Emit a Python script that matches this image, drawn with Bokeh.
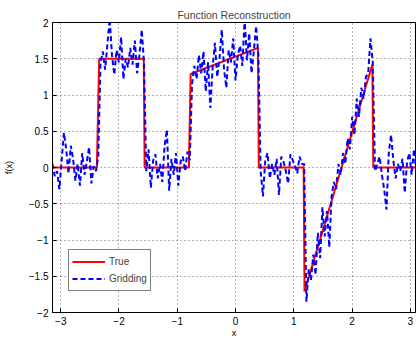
import math
import numpy as np
from bokeh.plotting import figure
from bokeh.models import Range1d, FixedTicker
from bokeh.embed import file_html
from bokeh.resources import INLINE

# ---- data ----
true_x = [-math.pi, -2.38, -2.34, -1.575, -1.56, -0.80, -0.77, 0.385, 0.40, 1.17, 1.185, 2.35, 2.365, math.pi]
true_y = [0.0, 0.0, 1.5, 1.5, 0.0, 0.0, 1.29, 1.65, 0.0, 0.0, -1.71, 1.42, 0.0, 0.0]

grid_n = 161
grid_x = list(np.linspace(-math.pi, math.pi, grid_n))
grid_y = [
    # x < -3pi/4
    0.05, -0.12, -0.05, -0.30, 0.10, 0.48, 0.25, -0.08, 0.30, 0.12,
    -0.18, 0.05, -0.25, 0.20, -0.10, 0.08, 0.28, -0.22, 0.02, -0.05,
    # -3pi/4 .. -pi/2
    0.15, 1.45, 1.60, 1.35, 1.70, 2.05, 1.55, 1.28, 1.62, 1.45,
    1.80, 1.22, 1.50, 1.38, 1.65, 1.42, 1.75, 1.30, 1.55, 1.90,
    # -pi/2 .. -pi/4
    1.45, -0.05, 0.25, -0.28, 0.10, 0.18, -0.15, 0.05, -0.20, 0.30,
    0.52, -0.32, 0.12, -0.10, 0.20, -0.25, 0.08, 0.15, -0.05, 0.22,
    # -pi/4 .. pi/8
    0.10, 1.15, 1.40, 1.22, 1.55, 1.30, 1.60, 1.05, 1.45, 0.82,
    1.38, 1.72, 1.25, 1.50, 1.90, 1.35, 1.10, 1.62, 1.45, 1.78,
    1.20, 1.55, 1.68, 1.40, 2.05, 1.48, 1.85, 1.30, 1.60, 1.95,
    # pi/8 .. 3pi/8
    1.55, -0.05, -0.40, 0.10, 0.20, -0.15, 0.05, -0.10, 0.12, -0.38,
    0.15, 0.08, -0.05, -0.22, 0.18, 0.10, 0.02, -0.08, 0.15, 0.05,
    # 3pi/8 .. 3pi/4
    0.05, -1.85, -1.40, -1.55, -1.20, -1.48, -0.90, -1.25, -0.55, -0.95,
    -0.60, -1.10, -0.40, -0.20, -0.30, 0.05, -0.10, 0.20, 0.05, 0.40,
    0.25, 0.70, 0.45, 0.95, 0.70, 1.10, 0.95, 1.25, 1.30, 1.78,
    # > 3pi/4
    1.45, -0.05, 0.05, 0.15, -0.10, -0.30, -0.58, 0.20, 0.45, 0.10,
    -0.15, 0.05, -0.05, 0.12, -0.35, 0.08, 0.20, -0.10, 0.25, -0.05,
    -0.30,
]

x_ticks = [-3, -2, -1, 0, 1, 2, 3]
x_tick_labels = ["\u22123", "\u22122", "\u22121", "0", "1", "2", "3"]
y_ticks = [-2, -1.5, -1, -0.5, 0, 0.5, 1, 1.5, 2]
y_tick_labels = ["\u22122", "\u22121.5", "\u22121", "\u22120.5", "0", "0.5", "1", "1.5", "2"]

FONT = "Liberation Sans"

p = figure(width=416, height=340, output_backend="svg", toolbar_location=None,
           x_range=Range1d(-math.pi, 3.09), y_range=Range1d(-2, 2),
           title="Function Reconstruction",
           min_border_left=47, min_border_right=1, min_border_top=22, min_border_bottom=25)

p.title.align = "center"
p.title.text_font = FONT
p.title.text_font_size = "10.5px"
p.title.text_font_style = "normal"
p.title.standoff = 3

p.outline_line_color = "black"
p.outline_line_width = 1
p.background_fill_color = "white"
p.border_fill_color = "white"

for ax, ticks, labels in ((p.xaxis[0], x_ticks, x_tick_labels), (p.yaxis[0], y_ticks, y_tick_labels)):
    ax.ticker = FixedTicker(ticks=ticks)
    ax.major_label_overrides = {t: l for t, l in zip(ticks, labels)}
    ax.major_tick_in = 4
    ax.major_tick_out = 0
    ax.minor_tick_in = 0
    ax.minor_tick_out = 0
    ax.axis_line_color = "black"
    ax.major_tick_line_color = "black"
    ax.major_label_text_font = FONT
    ax.major_label_text_font_size = "10px"
    ax.major_label_text_color = "black"
    ax.axis_label_text_font = FONT
    ax.axis_label_text_font_size = "9px"
    ax.axis_label_text_font_style = "normal"
    ax.axis_label_text_color = "black"

p.xaxis.axis_label = "x"
p.xaxis.major_label_standoff = 4
p.xaxis.axis_label_standoff = 0
p.yaxis.axis_label = "f(x)"
p.yaxis.major_label_standoff = 4
p.yaxis.axis_label_standoff = 12

p.xgrid.ticker = FixedTicker(ticks=x_ticks)
p.ygrid.ticker = FixedTicker(ticks=y_ticks)
for g in (p.xgrid[0], p.ygrid[0]):
    g.grid_line_color = "#444444"
    g.grid_line_dash = "1 3"
    g.grid_line_width = 1
    g.grid_line_alpha = 0.8

p.line(true_x, true_y, line_color="#ff0000", line_width=2, legend_label="True")
p.line(grid_x, grid_y, line_color="#0000ff", line_width=2, line_dash="5 3", legend_label="Gridding")

lg = p.legend[0]
lg.location = (16, 21)
lg.border_line_color = "black"
lg.border_line_width = 1
lg.background_fill_alpha = 1
lg.label_text_font = FONT
lg.label_text_font_size = "10px"
lg.padding = 3
lg.spacing = 0
lg.margin = 0
lg.label_height = 17
lg.glyph_height = 17
lg.glyph_width = 33
lg.label_standoff = 4

open("out.html", "w").write(file_html(p, INLINE))
